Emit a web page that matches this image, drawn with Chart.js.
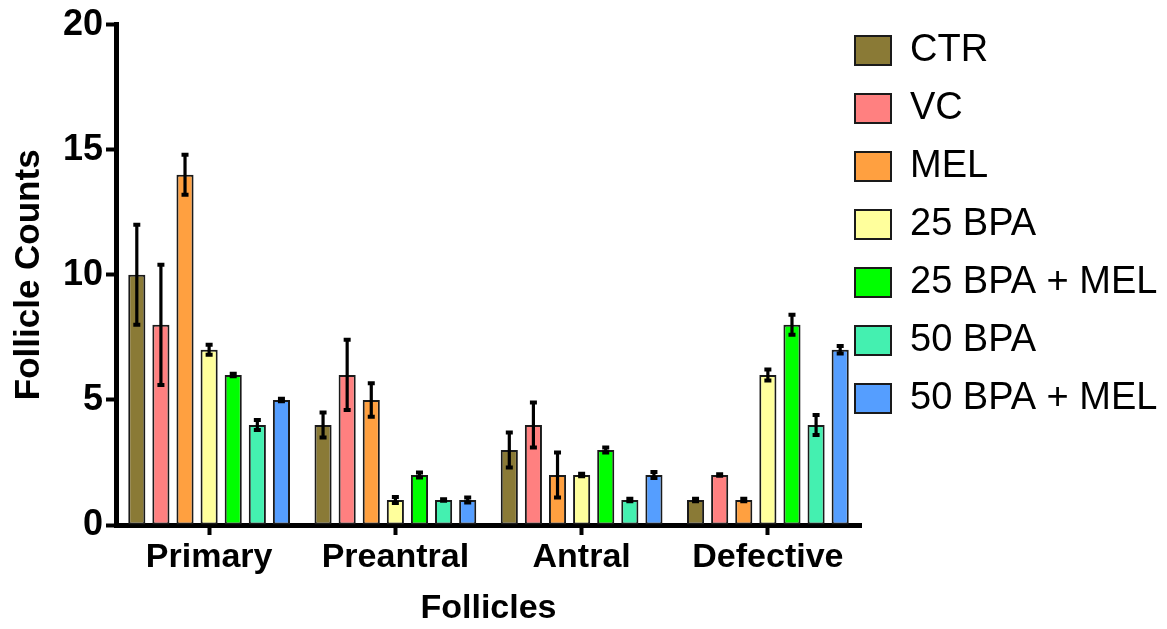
<!DOCTYPE html>
<html>
<head>
<meta charset="utf-8">
<script src="https://cdn.jsdelivr.net/npm/chart.js@4.4.1/dist/chart.umd.min.js"></script>
<style>
  html, body { margin: 0; padding: 0; background: #ffffff; }
  #wrap { width: 1167px; height: 629px; }
</style>
</head>
<body>
<div id="wrap"><canvas id="chart" width="1167" height="629"></canvas></div>
<script>
// Follicle categories along the x axis
const categories = ['Primary', 'Preantral', 'Antral', 'Defective'];

// Treatment groups
const groupNames = ['CTR', 'VC', 'MEL', '25 BPA', '25 BPA + MEL', '50 BPA', '50 BPA + MEL'];

// Mean follicle counts per group (Primary, Preantral, Antral, Defective)
const ctrCounts      = [10, 4, 3, 1];
const vcCounts       = [8, 6, 4, 2];
const melCounts      = [14, 5, 2, 1];
const bpa25Counts    = [7, 1, 2, 6];
const bpa25MelCounts = [6, 2, 3, 8];
const bpa50Counts    = [4, 1, 1, 4];
const bpa50MelCounts = [5, 1, 2, 7];

// Error (± SEM) per group
const ctrErr      = [2.0, 0.5, 0.7, 0.05];
const vcErr       = [2.4, 1.4, 0.9, 0.03];
const melErr      = [0.8, 0.67, 0.9, 0.05];
const bpa25Err    = [0.2, 0.12, 0.05, 0.22];
const bpa25MelErr = [0.05, 0.1, 0.1, 0.4];
const bpa50Err    = [0.2, 0.03, 0.05, 0.4];
const bpa50MelErr = [0.05, 0.1, 0.12, 0.15];

// Y axis tick values
const yTicks = [0, 5, 10, 15, 20];

const groupColors = ['#8a7a36', '#ff8080', '#ffa040', '#ffff9c', '#00ff00', '#44f0b0', '#559eff'];
const groupValues = [ctrCounts, vcCounts, melCounts, bpa25Counts, bpa25MelCounts, bpa50Counts, bpa50MelCounts];
const groupErrors = [ctrErr, vcErr, melErr, bpa25Err, bpa25MelErr, bpa50Err, bpa50MelErr];

const FONT = '"Liberation Sans", Arial, Helvetica, sans-serif';

// Vertical error bars with caps, placed through the y scale
const errorBars = {
  id: 'errorBars',
  afterDatasetsDraw(chart) {
    const ctx = chart.ctx;
    const yScale = chart.scales.y;
    chart.data.datasets.forEach((ds, di) => {
      const meta = chart.getDatasetMeta(di);
      if (meta.hidden) return;
      meta.data.forEach((bar, i) => {
        const v = ds.data[i];
        const e = ds.errors[i];
        const yTop = yScale.getPixelForValue(v + e);
        const yBot = yScale.getPixelForValue(v - e);
        ctx.save();
        ctx.strokeStyle = '#000000';
        ctx.lineCap = 'butt';
        ctx.lineWidth = 3.2;
        ctx.beginPath();
        ctx.moveTo(bar.x, yTop);
        ctx.lineTo(bar.x, yBot);
        ctx.stroke();
        ctx.lineWidth = 4;
        ctx.beginPath();
        ctx.moveTo(bar.x - 3.5, yTop);
        ctx.lineTo(bar.x + 3.5, yTop);
        ctx.moveTo(bar.x - 3.5, yBot);
        ctx.lineTo(bar.x + 3.5, yBot);
        ctx.stroke();
        ctx.restore();
      });
    });
  }
};

// Place the legend block beside the plot, slightly overlapping the axis end,
// and let it use the full remaining width so no entry is clipped
const legendPlacement = {
  id: 'legendPlacement',
  afterLayout(chart) {
    const lg = chart.legend;
    if (!lg) return;
    const h = lg.height;
    lg.left = 835;
    lg.top = 11.5;
    lg.right = chart.width;
    lg.width = lg.right - lg.left;
    lg.bottom = lg.top + h;
  }
};

const datasets = groupNames.map((name, k) => ({
  label: name,
  data: groupValues[k],
  errors: groupErrors[k],
  backgroundColor: groupColors[k],
  borderColor: '#1a1a1a',
  borderWidth: 2,
  borderSkipped: false,
  barPercentage: 0.71,
  categoryPercentage: 0.906
}));

new Chart(document.getElementById('chart'), {
  type: 'bar',
  data: { labels: categories, datasets },
  plugins: [errorBars, legendPlacement],
  options: {
    responsive: false,
    animation: false,
    layout: { padding: { left: 0, right: 0, top: 22, bottom: 0 } },
    plugins: {
      tooltip: { enabled: false },
      legend: {
        position: 'right',
        align: 'start',
        maxWidth: 306,
        labels: {
          boxWidth: 36,
          boxHeight: 29,
          padding: 20,
          color: '#000000',
          font: { family: FONT, size: 38, weight: 'normal' }
        }
      }
    },
    scales: {
      x: {
        offset: true,
        border: { display: true, color: '#000000', width: 5 },
        grid: {
          display: true,
          offset: false,
          drawOnChartArea: false,
          drawTicks: true,
          tickLength: 10,
          tickWidth: 4,
          tickColor: '#000000'
        },
        ticks: {
          color: '#000000',
          padding: 2,
          font: { family: FONT, size: 34, weight: 'bold' }
        },
        title: {
          display: true,
          text: 'Follicles',
          color: '#000000',
          padding: { top: 0, bottom: 0 },
          font: { family: FONT, size: 34, weight: 'bold' }
        },
        afterFit(scale) { scale.height = 104; }
      },
      y: {
        min: 0,
        max: 20,
        afterBuildTicks(scale) { scale.ticks = yTicks.map(v => ({ value: v })); },
        border: { display: true, color: '#000000', width: 5 },
        grid: {
          display: true,
          drawOnChartArea: false,
          drawTicks: true,
          tickLength: 10,
          tickWidth: 4,
          tickColor: '#000000'
        },
        ticks: {
          color: '#000000',
          padding: 3,
          font: { family: FONT, size: 36, weight: 'bold' }
        },
        title: {
          display: true,
          text: 'Follicle Counts',
          color: '#000000',
          padding: { top: 8, bottom: 0 },
          font: { family: FONT, size: 35, weight: 'bold' }
        },
        afterFit(scale) { scale.width = 116; }
      }
    }
  }
});
</script>
</body>
</html>
